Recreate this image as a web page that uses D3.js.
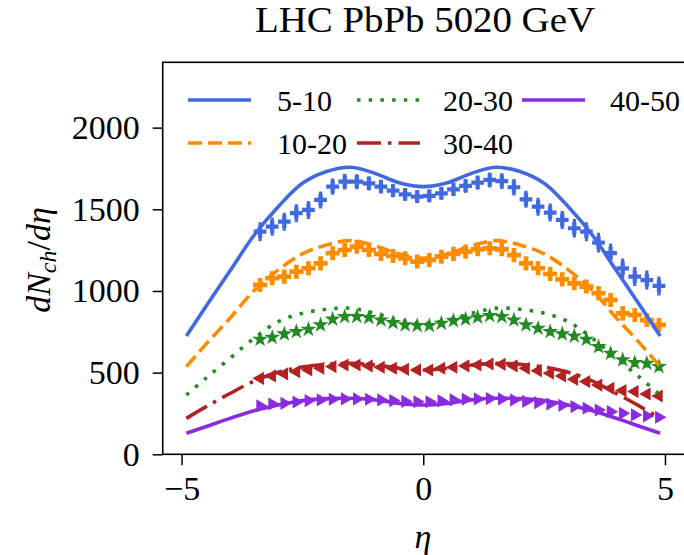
<!DOCTYPE html>
<html>
<head>
<meta charset="utf-8">
<script src="https://cdn.jsdelivr.net/npm/d3@7"></script>
<style>
  html, body { margin: 0; padding: 0; background: #fff; }
  svg { display: block; }
</style>
</head>
<body>
<script>
// ---------- data ----------
const title = "LHC PbPb 5020 GeV";
const centralities = ["5-10", "10-20", "20-30", "30-40", "40-50"];
const xTicks = [-5, 0, 5];
const yTicks = [0, 500, 1000, 1500, 2000];

// model curves
const etaModel = [-4.9, -4.5, -4, -3.5, -3, -2.5, -2, -1.5, -1, -0.5, 0, 0.5, 1, 1.5, 2, 2.5, 3, 3.5, 4, 4.5, 4.9];
const model_5_10  = [724, 903, 1122, 1341, 1516, 1659, 1731, 1757, 1720, 1663, 1639, 1663, 1720, 1757, 1731, 1659, 1516, 1341, 1122, 903, 724];
const model_10_20 = [537, 673, 833, 1002, 1129, 1227, 1282, 1308, 1276, 1227, 1200, 1227, 1276, 1308, 1282, 1227, 1129, 1002, 833, 673, 537];
const model_20_30 = [363, 465, 588, 710, 812, 863, 888, 894, 863, 822, 802, 822, 863, 894, 888, 863, 812, 710, 588, 465, 363];
const model_30_40 = [220, 290, 372, 448, 502, 534, 551, 557, 547, 527, 516, 527, 547, 557, 551, 534, 502, 448, 372, 290, 220];
const model_40_50 = [129, 169, 220, 267, 302, 329, 341, 343, 333, 312, 302, 312, 333, 343, 341, 329, 302, 267, 220, 169, 129];

// measured points
const etaData = [-3.375, -3.125, -2.875, -2.625, -2.375, -2.125, -1.875, -1.625, -1.375, -1.125, -0.875, -0.625, -0.375, -0.125,
                 0.125, 0.375, 0.625, 0.875, 1.125, 1.375, 1.625, 1.875, 2.125, 2.375, 2.625, 2.875, 3.125, 3.375,
                 3.625, 3.875, 4.125, 4.375, 4.625, 4.875];
const data_5_10  = [1363, 1394, 1424, 1476, 1496, 1557, 1639, 1669, 1669, 1659, 1639, 1614, 1592, 1578,
                    1582, 1598, 1622, 1643, 1663, 1680, 1673, 1635, 1561, 1516, 1480, 1435, 1384, 1363,
                    1296, 1231, 1139, 1088, 1067, 1031];
const err_5_10   = [58, 56, 55, 55, 55, 52, 50, 48, 46, 44, 42, 40, 38, 38,
                    38, 38, 40, 42, 44, 46, 48, 50, 52, 55, 55, 55, 56, 58,
                    60, 60, 60, 58, 58, 58];
const data_10_20 = [1037, 1078, 1088, 1118, 1139, 1169, 1231, 1251, 1271, 1251, 1227, 1214, 1200, 1180,
                    1190, 1210, 1227, 1241, 1255, 1261, 1255, 1220, 1169, 1139, 1104, 1071, 1047, 1027,
                    986, 945, 863, 853, 822, 792];
const err_10_20  = [40, 40, 40, 40, 40, 38, 38, 36, 35, 34, 32, 30, 28, 28,
                    28, 28, 30, 32, 34, 35, 36, 38, 38, 40, 40, 40, 40, 40,
                    42, 42, 42, 42, 42, 42];
const data_20_30 = [704, 716, 737, 751, 765, 792, 827, 843, 843, 837, 822, 806, 792, 788,
                    788, 802, 818, 827, 839, 849, 843, 822, 792, 771, 751, 737, 724, 704,
                    659, 618, 578, 561, 557, 537];
const err_20_30  = [24, 24, 24, 24, 22, 22, 22, 22, 20, 20, 20, 18, 18, 18,
                    18, 18, 18, 20, 20, 20, 22, 22, 22, 22, 24, 24, 24, 24,
                    26, 26, 26, 26, 26, 26];
const data_30_40 = [465, 480, 492, 506, 516, 527, 537, 547, 547, 541, 533, 527, 520, 516,
                    516, 527, 533, 541, 547, 553, 551, 541, 527, 512, 496, 480, 459, 445,
                    424, 404, 390, 384, 369, 357];
const err_30_40  = [16, 16, 15, 15, 15, 14, 14, 14, 13, 13, 13, 12, 12, 12,
                    12, 12, 12, 13, 13, 13, 14, 14, 14, 15, 15, 15, 16, 16,
                    17, 17, 17, 17, 17, 17];
const data_40_50 = [296, 308, 312, 320, 329, 333, 337, 339, 339, 337, 333, 329, 324, 322,
                    322, 327, 333, 337, 339, 341, 339, 333, 324, 316, 308, 300, 292, 282,
                    271, 261, 251, 241, 235, 227];
const err_40_50  = [10, 10, 10, 10, 9, 9, 9, 9, 9, 8, 8, 8, 8, 8,
                    8, 8, 8, 8, 9, 9, 9, 9, 9, 9, 10, 10, 10, 10,
                    11, 11, 11, 11, 11, 11];

const colors = ["#4169e1", "#ff8c00", "#228b22", "#b22222", "#8a2be2"];

// ---------- layout ----------
const W = 684, H = 555;
const L = 162.7, R = 686, T = 62.3, B = 454.3;
const FONT = "'Liberation Serif', 'Times New Roman', serif";

const x = d3.scaleLinear().domain([-5.39, 5.435]).range([L, R]);
const y = d3.scaleLinear().domain([0, 2400]).range([B, T]);

const svg = d3.select("body").append("svg").attr("width", W).attr("height", H)
  .style("font-family", FONT);

// title
svg.append("text").attr("x", 425).attr("y", 32).attr("text-anchor", "middle")
  .attr("font-size", 35).attr("fill", "#000")
  .attr("textLength", 340).attr("lengthAdjust", "spacingAndGlyphs")
  .text(title);

const series = [
  {name: centralities[0], model: model_5_10,  data: data_5_10,  err: err_5_10,  color: colors[0], dash: null,            marker: "plus",  size: 90},
  {name: centralities[1], model: model_10_20, data: data_10_20, err: err_10_20, color: colors[1], dash: "14,6",          marker: "plus",  size: 110},
  {name: centralities[2], model: model_20_30, data: data_20_30, err: err_20_30, color: colors[2], dash: "3.5,8.2",       marker: "star",  size: 80},
  {name: centralities[3], model: model_30_40, data: data_30_40, err: err_30_40, color: colors[3], dash: "24,7,3.5,7",    marker: "left",  size: 75},
  {name: centralities[4], model: model_40_50, data: data_40_50, err: err_40_50, color: colors[4], dash: null,            marker: "right", size: 75}
];

const plot = svg.append("g");
plot.append("clipPath").attr("id", "clip").append("rect")
  .attr("x", L).attr("y", T).attr("width", R - L).attr("height", B - T);
const inner = plot.append("g").attr("clip-path", "url(#clip)");

// data points with error bars
series.forEach(s => {
  const g = inner.append("g");
  const pts = etaData.map((e, i) => ({e, v: s.data[i], err: s.err[i]}));
  g.selectAll("line.err").data(pts).join("line")
    .attr("x1", d => x(d.e)).attr("x2", d => x(d.e))
    .attr("y1", d => y(d.v - d.err)).attr("y2", d => y(d.v + d.err))
    .attr("stroke", s.color).attr("stroke-width", 3.2);
  let type, rot = 0;
  if (s.marker === "plus") type = d3.symbolCross;
  else if (s.marker === "star") type = d3.symbolStar;
  else { type = d3.symbolTriangle; rot = s.marker === "left" ? -90 : 90; }
  const sym = d3.symbol().type(type).size(s.size);
  g.selectAll("path.m").data(pts).join("path")
    .attr("d", sym)
    .attr("transform", d => `translate(${x(d.e)},${y(d.v)}) rotate(${rot})`)
    .attr("fill", s.color);
});

// model curves
const line = d3.line().x((d, i) => x(etaModel[i])).y(d => y(d)).curve(d3.curveCatmullRom.alpha(0.5));
series.forEach(s => {
  inner.append("path").attr("d", line(s.model))
    .attr("fill", "none").attr("stroke", s.color).attr("stroke-width", 3.6)
    .attr("stroke-dasharray", s.dash).attr("stroke-linecap", "butt");
});

// axes
const yAxis = d3.axisLeft(y).tickValues(yTicks).tickSize(10).tickPadding(13).tickFormat(d3.format("d"));
const gy = svg.append("g").attr("transform", `translate(${L},0)`).call(yAxis);
const xAxis = d3.axisBottom(x).tickValues(xTicks).tickSize(11).tickPadding(11).tickFormat(d3.format("d"));
const gx = svg.append("g").attr("transform", `translate(0,${B})`).call(xAxis);
[gx, gy].forEach(g => {
  g.select(".domain").remove();
  g.selectAll(".tick line").attr("stroke", "#000").attr("stroke-width", 1.5);
  g.selectAll(".tick text").attr("font-family", FONT).attr("font-size", 34).attr("fill", "#000");
});

// frame (right spine lies just outside the picture)
svg.append("rect").attr("x", L).attr("y", T).attr("width", R - L).attr("height", B - T)
  .attr("fill", "none").attr("stroke", "#000").attr("stroke-width", 1.6);

// axis labels
svg.append("text").attr("x", 423).attr("y", 548).attr("text-anchor", "middle")
  .attr("font-size", 34).attr("font-style", "italic").text("η");

const yl = svg.append("text").attr("transform", "translate(50,260) rotate(-90)")
  .attr("text-anchor", "middle").attr("font-size", 34).attr("font-style", "italic");
yl.append("tspan").text("dN");
yl.append("tspan").attr("font-size", 24).attr("dy", 6).text("ch");
yl.append("tspan").attr("dy", -6).attr("font-style", "normal").text("/");
yl.append("tspan").text("dη");

// legend
const legendPos = [
  {hx: 188, tx: 277, y: 100},
  {hx: 188, tx: 277, y: 143},
  {hx: 357, tx: 443, y: 100},
  {hx: 357, tx: 443, y: 143},
  {hx: 522, tx: 610, y: 100}
];
series.forEach((s, i) => {
  const p = legendPos[i];
  svg.append("line").attr("x1", p.hx).attr("x2", p.hx + 63).attr("y1", p.y).attr("y2", p.y)
    .attr("stroke", s.color).attr("stroke-width", 3.4).attr("stroke-dasharray", s.dash);
  svg.append("text").attr("x", p.tx).attr("y", p.y + 11).attr("font-size", 30).attr("fill", "#000").text(s.name);
});
</script>
</body>
</html>
